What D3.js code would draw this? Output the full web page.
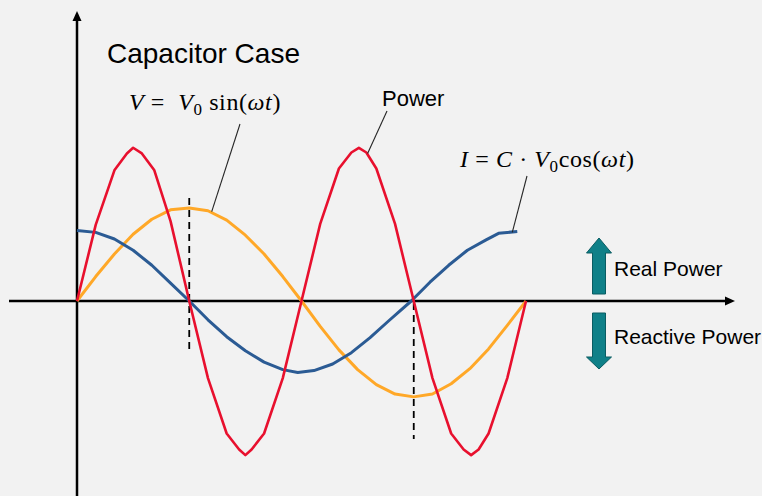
<!DOCTYPE html>
<html>
<head>
<meta charset="utf-8">
<script src="https://cdn.jsdelivr.net/npm/d3@7"></script>
<style>
  html, body { margin: 0; padding: 0; background: #f2f2f2; }
  svg { display: block; }
</style>
</head>
<body>
<div id="chart"></div>
<script>
// phase angles (degrees) and values, V amplitude = 1
var vAngles = [0, 15, 30, 45, 60, 75, 90, 105, 120, 135, 150, 165, 180, 195, 210, 225, 240, 255, 270, 285, 300, 315, 330, 345, 360];
var vValues = [0, 0.26, 0.5, 0.71, 0.87, 0.97, 0.99, 0.96, 0.86, 0.7, 0.5, 0.26, 0, -0.27, -0.52, -0.73, -0.89, -0.99, -1.02, -0.99, -0.88, -0.72, -0.51, -0.26, 0];

var iAngles = [0, 15, 30, 45, 60, 75, 90, 105, 120, 135, 150, 165, 177, 190, 205, 220, 235, 250, 268, 283, 298, 313, 328, 338, 353];
var iValues = [0.75, 0.73, 0.66, 0.54, 0.38, 0.19, 0, -0.2, -0.38, -0.53, -0.65, -0.73, -0.76, -0.74, -0.67, -0.55, -0.39, -0.21, 0, 0.2, 0.38, 0.54, 0.65, 0.72, 0.74];

var pAngles = [0, 15, 30, 40, 45, 52, 62, 75, 90, 105, 120, 130, 135, 140, 150, 165, 180, 195, 210, 220, 226, 232, 240, 255, 270, 285, 300, 310, 316, 322, 330, 345, 360];
var pValues = [0, 0.81, 1.39, 1.57, 1.63, 1.57, 1.39, 0.85, 0, -0.82, -1.41, -1.58, -1.64, -1.58, -1.41, -0.82, 0, 0.82, 1.41, 1.58, 1.63, 1.58, 1.41, 0.82, 0, -0.82, -1.41, -1.58, -1.64, -1.58, -1.41, -0.82, 0];

// dashed markers at the V peak and V trough
var dashAngles = [90, 270];

var width = 762, height = 496;

var svg = d3.select("#chart")
  .append("svg")
    .attr("width", width)
    .attr("height", height);

svg.append("rect")
    .attr("width", width)
    .attr("height", height)
    .attr("fill", "#f2f2f2");

var x = d3.scaleLinear().domain([0, 360]).range([77, 526]);
var y = d3.scaleLinear().domain([-1, 1]).range([395, 207]);

function zip(a, v) {
  return a.map(function(d, i) { return [d, v[i]]; });
}

var line = d3.line()
    .x(function(d) { return x(d[0]); })
    .y(function(d) { return y(d[1]); });

// axes
svg.append("line")
    .attr("x1", 9).attr("x2", 728)
    .attr("y1", y(0)).attr("y2", y(0))
    .attr("stroke", "#000").attr("stroke-width", 2.5);
svg.append("path")
    .attr("d", "M725," + (y(0) - 4.5) + "L735," + y(0) + "L725," + (y(0) + 4.5) + "Z")
    .attr("fill", "#000");

svg.append("line")
    .attr("x1", x(0)).attr("x2", x(0))
    .attr("y1", 496).attr("y2", 18)
    .attr("stroke", "#000").attr("stroke-width", 2.5);
svg.append("path")
    .attr("d", "M" + (x(0) - 4.5) + ",21L" + x(0) + ",11L" + (x(0) + 4.5) + ",21Z")
    .attr("fill", "#000");

// dashed guides
svg.append("line")
    .attr("x1", x(dashAngles[0])).attr("x2", x(dashAngles[0]))
    .attr("y1", 198).attr("y2", 349)
    .attr("stroke", "#000").attr("stroke-width", 1.8)
    .attr("stroke-dasharray", "7,5");
svg.append("line")
    .attr("x1", x(dashAngles[1])).attr("x2", x(dashAngles[1]))
    .attr("y1", y(0) + 2).attr("y2", 439)
    .attr("stroke", "#000").attr("stroke-width", 1.8)
    .attr("stroke-dasharray", "7,5");

// curves
svg.append("path")
    .datum(zip(vAngles, vValues))
    .attr("d", line)
    .attr("fill", "none")
    .attr("stroke", "#ffa828")
    .attr("stroke-width", 3)
    .attr("stroke-linejoin", "round");

svg.append("path")
    .datum(zip(iAngles, iValues))
    .attr("d", line)
    .attr("fill", "none")
    .attr("stroke", "#2b5b94")
    .attr("stroke-width", 3)
    .attr("stroke-linejoin", "round");

svg.append("path")
    .datum(zip(pAngles, pValues))
    .attr("d", line)
    .attr("fill", "none")
    .attr("stroke", "#e8102e")
    .attr("stroke-width", 2.6)
    .attr("stroke-linejoin", "round");

// leader lines
function leader(x1, y1, x2, y2) {
  svg.append("line")
      .attr("x1", x1).attr("y1", y1)
      .attr("x2", x2).attr("y2", y2)
      .attr("stroke", "#262626").attr("stroke-width", 1.1);
}
leader(240, 124, x(108), y(0.95));
leader(387, 111, x(233), y(1.57));
leader(527, 176, x(349), y(0.73));

// texts
svg.append("text")
    .attr("x", 107).attr("y", 63)
    .attr("font-family", "Liberation Sans, Arial, sans-serif")
    .attr("font-size", 28)
    .attr("fill", "#000")
    .text("Capacitor Case");

svg.append("text")
    .attr("x", 382).attr("y", 106)
    .attr("font-family", "Liberation Sans, Arial, sans-serif")
    .attr("font-size", 22)
    .attr("fill", "#000")
    .text("Power");

function mathLabel(px, py, parts) {
  var t = svg.append("text")
      .attr("x", px).attr("y", py)
      .attr("font-family", "Liberation Serif, DejaVu Serif, serif")
      .attr("font-size", 24)
      .attr("letter-spacing", 0.6)
      .attr("fill", "#000")
      .attr("xml:space", "preserve");
  parts.forEach(function(p) {
    var s = t.append("tspan").text(p[0]);
    if (p[1] === "i") s.attr("font-style", "italic");
    if (p[1] === "sub") {
      s.attr("font-size", 17).attr("dy", 5);
    }
    if (p[2]) s.attr("dy", p[2]);
  });
}

mathLabel(129, 110, [
  ["V", "i"], [" =  ", "r"], ["V", "i"], ["0", "sub"], [" sin(", "r", -5], ["ωt", "i"], [")", "r"]
]);

mathLabel(460, 167, [
  ["I", "i"], [" = ", "r"], ["C", "i"], [" · ", "r"], ["V", "i"], ["0", "sub"], ["cos(", "r", -5], ["ωt", "i"], [")", "r"]
]);

// real / reactive power arrows
var arrowFill = "#0f8088", arrowStroke = "#0a5c62";
svg.append("path")
    .attr("d", "M599,238L611.5,253L605.5,253L605.5,294L592.5,294L592.5,253L586.5,253Z")
    .attr("fill", arrowFill).attr("stroke", arrowStroke).attr("stroke-width", 1);
svg.append("path")
    .attr("d", "M599,369L611.5,357L605.5,357L605.5,313L592.5,313L592.5,357L586.5,357Z")
    .attr("fill", arrowFill).attr("stroke", arrowStroke).attr("stroke-width", 1);

svg.append("text")
    .attr("x", 614).attr("y", 276)
    .attr("font-family", "Liberation Sans, Arial, sans-serif")
    .attr("font-size", 21)
    .attr("fill", "#000")
    .text("Real Power");

svg.append("text")
    .attr("x", 614).attr("y", 344)
    .attr("font-family", "Liberation Sans, Arial, sans-serif")
    .attr("font-size", 21)
    .attr("fill", "#000")
    .text("Reactive Power");
</script>
</body>
</html>
